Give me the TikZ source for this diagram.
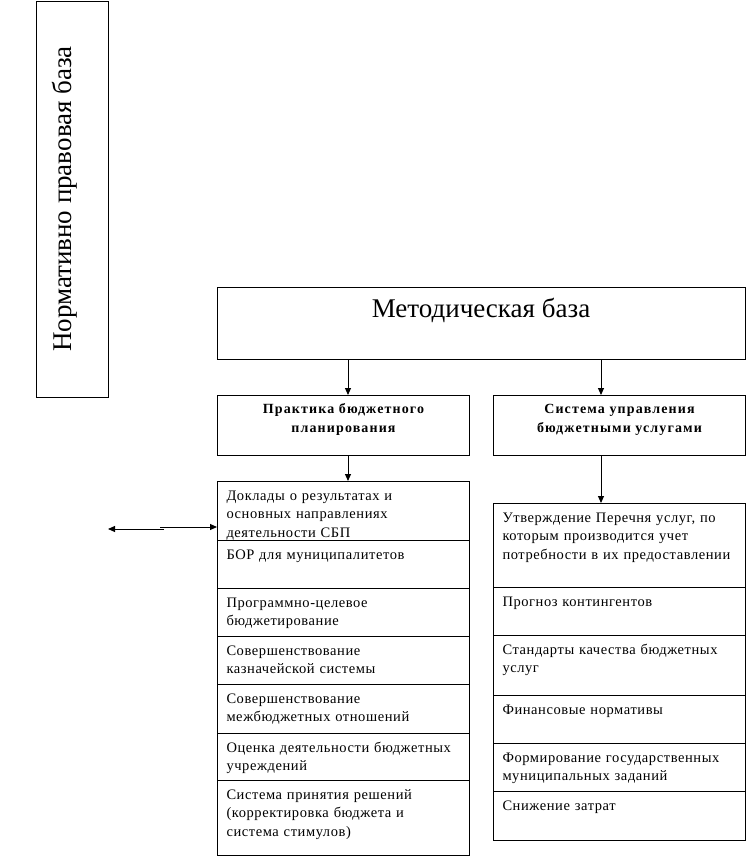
\documentclass[tikz,border=0pt]{standalone}
\usepackage{fontspec}
\setmainfont{Liberation Serif}
\newfontfamily\listfont[LetterSpace=4]{Liberation Serif}
\newfontfamily\headfont[LetterSpace=8]{Liberation Serif}
\usetikzlibrary{arrows.meta}
\begin{document}
\begin{tikzpicture}[x=1pt,y=-1pt, line width=1pt,
  box/.style={draw, inner sep=0pt, anchor=north west, minimum width=252pt},
  txt/.style={anchor=north west, inner sep=0pt, align=left, text width=245pt, font=\listfont\fontsize{14.5}{18.5}\selectfont},
  head/.style={anchor=north, inner sep=0pt, align=center, font=\headfont\bfseries\fontsize{14}{19}\selectfont},
  arr/.style={-{Triangle[length=7pt,width=6pt]}}]
\useasboundingbox (0,0) rectangle (746,865);

% left vertical box
\node[draw, inner sep=0pt, anchor=north west, minimum width=72pt, minimum height=396pt] (nb) at (36,1) {};
\node[rotate=90, anchor=base, inner sep=0pt, font=\fontsize{27}{31}\selectfont] (nbt) at (71,199) {Нормативно правовая база};

% methodical base
\node[draw, inner sep=0pt, anchor=north west, minimum width=528pt, minimum height=72pt] (m) at (217,287) {};
\node[anchor=base, inner sep=0pt, font=\fontsize{27}{31}\selectfont] (mt) at (481,317) {Методическая база};

% headers
\node[box, minimum height=60pt] (p) at (217,395) {};
\node[head] (pt) at ([yshift=-5pt]p.north) {\strut Практика бюджетного\\ планирования};
\node[box, minimum height=60pt] (s) at (493,395) {};
\node[head] (st) at ([yshift=-5pt]s.north) {\strut Система управления\\ бюджетными услугами};

% left list
\node[box, minimum height=59pt] (l1) at (217,481) {};
\node[box, minimum height=48pt] (l2) at (217,540) {};
\node[box, minimum height=48pt] (l3) at (217,588) {};
\node[box, minimum height=48pt] (l4) at (217,636) {};
\node[box, minimum height=49pt] (l5) at (217,684) {};
\node[box, minimum height=47pt] (l6) at (217,733) {};
\node[box, minimum height=75pt] (l7) at (217,780) {};
\node[txt] (l1t) at ([xshift=9pt,yshift=-6pt]l1.north west) {\strut Доклады о результатах и\\ основных направлениях\\ деятельности СБП};
\node[txt] (l2t) at ([xshift=9pt,yshift=-6pt]l2.north west) {\strut БОР для муниципалитетов};
\node[txt] (l3t) at ([xshift=9pt,yshift=-6pt]l3.north west) {\strut Программно-целевое\\ бюджетирование};
\node[txt] (l4t) at ([xshift=9pt,yshift=-6pt]l4.north west) {\strut Совершенствование\\ казначейской системы};
\node[txt] (l5t) at ([xshift=9pt,yshift=-6pt]l5.north west) {\strut Совершенствование\\ межбюджетных отношений};
\node[txt] (l6t) at ([xshift=9pt,yshift=-6pt]l6.north west) {\strut Оценка деятельности бюджетных\\ учреждений};
\node[txt] (l7t) at ([xshift=9pt,yshift=-6pt]l7.north west) {\strut Система принятия решений\\ (корректировка бюджета и\\ система стимулов)};

% right list
\node[box, minimum height=84pt] (r1) at (493,503) {};
\node[box, minimum height=48pt] (r2) at (493,587) {};
\node[box, minimum height=60pt] (r3) at (493,635) {};
\node[box, minimum height=48pt] (r4) at (493,695) {};
\node[box, minimum height=48pt] (r5) at (493,743) {};
\node[box, minimum height=49pt] (r6) at (493,791) {};
\node[txt] (r1t) at ([xshift=9pt,yshift=-6pt]r1.north west) {\strut Утверждение Перечня услуг, по\\ которым производится учет\\ потребности в их предоставлении};
\node[txt] (r2t) at ([xshift=9pt,yshift=-6pt]r2.north west) {\strut Прогноз контингентов};
\node[txt] (r3t) at ([xshift=9pt,yshift=-6pt]r3.north west) {\strut Стандарты качества бюджетных\\ услуг};
\node[txt] (r4t) at ([xshift=9pt,yshift=-6pt]r4.north west) {\strut Финансовые нормативы};
\node[txt] (r5t) at ([xshift=9pt,yshift=-6pt]r5.north west) {\strut Формирование государственных\\ муниципальных заданий};
\node[txt] (r6t) at ([xshift=9pt,yshift=-6pt]r6.north west) {\strut Снижение затрат};

% connectors
\coordinate (ax1) at (348,0);
\coordinate (ax2) at (601,0);
\draw[arr] (ax1 |- m.south) -- (ax1 |- p.north);
\draw[arr] (ax2 |- m.south) -- (ax2 |- s.north);
\draw[arr] (ax1 |- p.south) -- (ax1 |- l1.north);
\draw[arr] (ax2 |- s.south) -- (ax2 |- r1.north);

% double arrow on the left
\coordinate (lend) at (108,529);
\coordinate (mid1) at (164,529);
\coordinate (mid2) at (160,527);
\draw[arr] (mid1) -- (lend);
\draw[arr] (mid2) -- (mid2 -| l1.west);
\end{tikzpicture}
\end{document}
